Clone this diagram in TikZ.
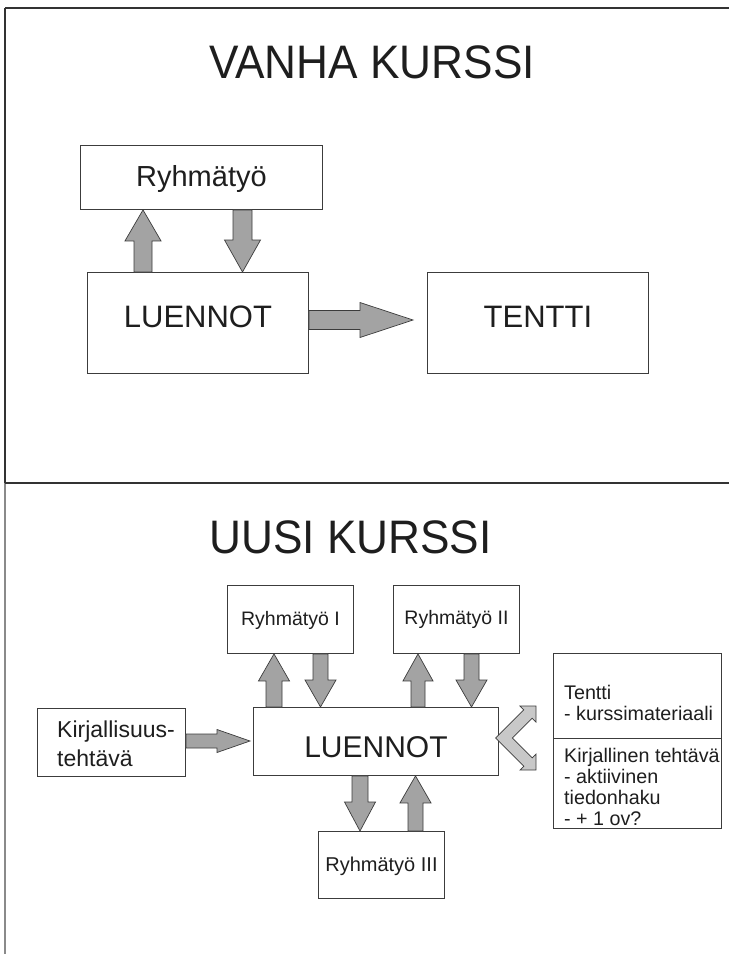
\documentclass[tikz,border=0pt]{standalone}
\usepackage{fontspec}
\setmainfont{Liberation Sans}
\newfontfamily\titlefont[FakeStretch=0.94]{Liberation Sans}
\usetikzlibrary{calc}
\definecolor{txt}{HTML}{1E1E1E}
\definecolor{boxc}{HTML}{3C3C3C}
\definecolor{arrfill}{HTML}{A3A3A3}
\definecolor{forkfill}{HTML}{C8C8C8}
\definecolor{framec}{HTML}{333333}
\definecolor{lowframe}{HTML}{8A8A8A}
\newcommand\vblk[6]{%
  \draw[blk] let \p1=(#1,0 |- #2), \p2=(#1,0 |- #3), \n1={sign(\y2-\y1)} in
   (\x1-#4pt,\y1) -- (\x1-#4pt,\y2-\n1*#6pt) -- (\x1-#5pt,\y2-\n1*#6pt) -- (\x2,\y2)
   -- (\x1+#5pt,\y2-\n1*#6pt) -- (\x1+#4pt,\y2-\n1*#6pt) -- (\x1+#4pt,\y1) -- cycle;}
\newcommand\hblk[6]{%
  \draw[blk] let \p1=(#2 |- 0,#1), \p2=(#3 |- 0,#1), \n1={sign(\x2-\x1)} in
   (\x1,\y1+#4pt) -- (\x2-\n1*#6pt,\y1+#4pt) -- (\x2-\n1*#6pt,\y1+#5pt) -- (\x2,\y1)
   -- (\x2-\n1*#6pt,\y1-#5pt) -- (\x2-\n1*#6pt,\y1-#4pt) -- (\x1,\y1-#4pt) -- cycle;}
\begin{document}
\begin{tikzpicture}[x=1pt,y=-1pt,
  box/.style={draw=boxc, line width=0.9pt, fill=white, inner sep=0pt, anchor=north west, text=txt},
  blk/.style={draw=boxc, line width=0.7pt, fill=arrfill, line join=miter},
  fork/.style={draw=boxc, line width=0.7pt, fill=forkfill, line join=miter},
  title/.style={text=txt, inner sep=0pt, font=\titlefont\fontsize{47}{56}\selectfont, text height=33.6pt, text depth=0pt},
  lt/.style={text=txt, inner sep=0pt, anchor=base west, font=\fontsize{19.7}{24}\selectfont},
  kt/.style={text=txt, inner sep=0pt, anchor=base west, font=\fontsize{23}{28}\selectfont}]
\useasboundingbox (0,0) rectangle (729,954);
\fill[white] (0,0) rectangle (729,954);
% frame
\draw[framec, line width=1.2pt] (5,8) -- (729,8);
\draw[framec, line width=1.2pt] (5,8) -- (5,483);
\draw[lowframe, line width=1.8pt] (5,483) -- (5,954);
\draw[framec, line width=1.6pt] (5,483) -- (729,483);
% titles
\node[title] (t1) at (372,62) {VANHA KURSSI};
\node[title] (t2) at (350.5,537) {UUSI KURSSI};
% top section
\node[box, minimum width=242pt, minimum height=64pt, font=\fontsize{29}{34}\selectfont, text height=20.8pt, text depth=2pt] (ry) at (80,145) {Ryhmätyö};
\node[box, minimum width=221pt, minimum height=101pt, font=\fontsize{31}{36}\selectfont, text height=22.2pt, text depth=13pt] (lu) at (87,272) {LUENNOT};
\node[box, minimum width=221pt, minimum height=101pt, font=\fontsize{31}{36}\selectfont, text height=22.2pt, text depth=13pt] (te) at (427,272) {TENTTI};
\coordinate (tetip) at (413,320);
\vblk{143}{lu.north}{ry.south}{9}{18}{31}
\vblk{242.5}{ry.south}{lu.north}{9.5}{18}{32}
\hblk{320}{lu.east}{tetip}{9.5}{17.5}{53}
% bottom section
\node[box, minimum width=126pt, minimum height=68pt, font=\fontsize{19.5}{23}\selectfont, text height=14pt, text depth=2pt] (r1) at (227,585) {Ryhmätyö I};
\node[box, minimum width=126pt, minimum height=68pt, font=\fontsize{19.5}{23}\selectfont, text height=14pt, text depth=4pt] (r2) at (393,585) {Ryhmätyö II};
\node[box, minimum width=245pt, minimum height=68pt, font=\fontsize{30}{36}\selectfont, text height=31.5pt, text depth=0pt] (lb) at (253,707) {LUENNOT};
\node[box, minimum width=126pt, minimum height=67pt, font=\fontsize{20}{24}\selectfont, text height=14.3pt, text depth=2pt] (r3) at (318,831) {Ryhmätyö III};
\node[box, minimum width=148pt, minimum height=68pt] (kb) at (37,708) {};
\node[kt] (kt1) at (57,737) {Kirjallisuus-};
\node[kt] (kt2) at (57,766) {tehtävä};
\node[box, minimum width=168pt, minimum height=85pt] (tb) at (553,653) {};
\node[box, minimum width=168pt, minimum height=90pt] (kw) at (553,738) {};
\node[lt] (tt1) at (564,699) {Tentti};
\node[lt] (tt2) at (564,720) {- kurssimateriaali};
\node[lt] (kw1) at (564,762) {Kirjallinen tehtävä};
\node[lt] (kw2) at (564,783) {- aktiivinen};
\node[lt] (kw3) at (564,804) {tiedonhaku};
\node[lt] (kw4) at (564,825) {- + 1 ov?};
% block arrows
\vblk{274}{lb.north}{r1.south}{8}{15.5}{27}
\vblk{320.5}{r1.south}{lb.north}{7.5}{15.5}{27}
\vblk{418}{lb.north}{r2.south}{7}{15}{27}
\vblk{471.5}{r2.south}{lb.north}{7.5}{15.5}{27}
\vblk{360}{lb.south}{r3.north}{8}{15.5}{29}
\vblk{415.5}{r3.north}{lb.south}{7.5}{15.5}{27}
\coordinate (lbtip) at (250,741);
\hblk{741}{kb.east}{lbtip}{7}{11.5}{33}
% fork arrow
\draw[fork] (495.6,738) -- (523.8,709.8) -- (520,706) -- (536,706) -- (536,722) -- (532.2,718.2)
  -- (512.4,738) -- (532.2,757.8) -- (536,754) -- (536,770) -- (520,770) -- (523.8,766.2) -- cycle;
\end{tikzpicture}
\end{document}
